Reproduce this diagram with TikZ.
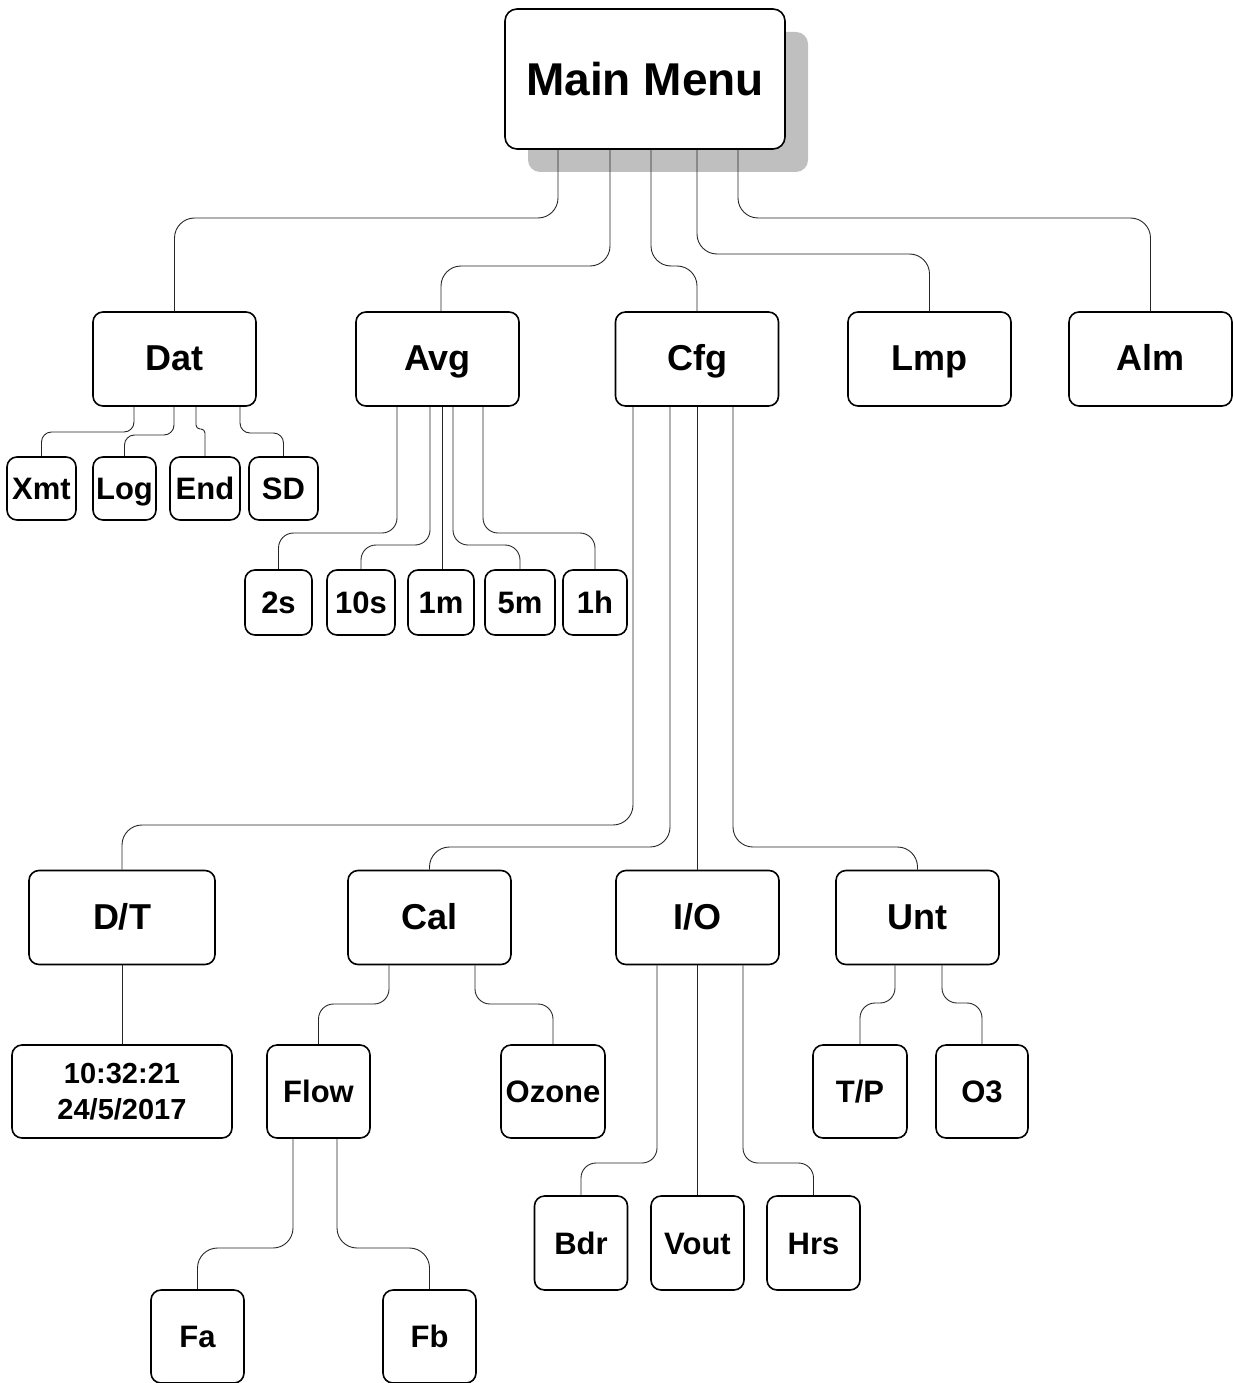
\documentclass[tikz,border=0pt]{standalone}
\usepackage{fontspec}
\setmainfont{Liberation Sans}
\usetikzlibrary{shadows}

\begin{document}
\begin{tikzpicture}[x=1pt,y=-1pt,
    menubox/.style={draw,line width=1.6pt,rounded corners=10pt,align=center,
                    inner sep=0pt,fill=white,font=\bfseries},
    topbox/.style={menubox,rounded corners=12pt,minimum width=280pt,minimum height=140pt,
                   font=\bfseries\fontsize{46}{54}\selectfont,
                   drop shadow={shadow xshift=23pt,shadow yshift=-23pt,fill=black!25,opacity=1}},
    midbox/.style={menubox,minimum width=163pt,minimum height=94pt,
                   text height=26pt,text depth=3pt,
                   font=\bfseries\fontsize{36}{42}\selectfont},
    leafbox/.style={menubox,minimum height=93pt,
                    text height=22pt,text depth=0pt,
                    font=\bfseries\fontsize{31}{36}\selectfont},
    wire/.style={draw=black!85,line width=0.9pt,rounded corners=15pt}]
  \useasboundingbox (0,0) rectangle (1233,1383);

  % main menu and first level
  \node[topbox] (main) at (645,79) {Main Menu};
  \foreach \nm/\tx/\x in {dat/Dat/174.5,avg/Avg/437.5,cfg/Cfg/697,lmp/Lmp/929.5,alm/Alm/1150.5}
    \node[midbox] (\nm) at (\x,359) {\tx};

  % second level under Dat and Avg
  \foreach \nm/\tx/\x/\w in {xmt/Xmt/41.5/69,log/Log/124.5/63,end/End/205/70,sd/SD/283.5/69}
    \node[leafbox,minimum width=\w,minimum height=63pt] (\nm) at (\x,488.5) {\tx};
  \foreach \nm/\tx/\x/\w in {stwo/2s/278.5/67,sten/10s/361/68,mone/1m/441/66,mfive/5m/520/70,hone/1h/595/64}
    \node[leafbox,minimum width=\w,minimum height=65pt] (\nm) at (\x,602.5) {\tx};

  % second level under Cfg
  \node[midbox,minimum width=186pt] (dt) at (122,917.5) {D/T};
  \foreach \nm/\tx/\x in {cal/Cal/429.5,io/{I/O}/697.5,unt/Unt/917.5}
    \node[midbox] (\nm) at (\x,917.5) {\tx};

  % third level
  \node[menubox,minimum width=220pt,minimum height=93pt,
        font=\bfseries\fontsize{29}{36}\selectfont] (clock) at (122,1091.5) {10:32:21\\24/5/2017};
  \foreach \nm/\tx/\x/\w in {flow/Flow/318.5/103,ozone/Ozone/553/104,tp/{T/P}/860/94,othree/O3/982/92}
    \node[leafbox,minimum width=\w] (\nm) at (\x,1091.5) {\tx};
  \foreach \nm/\tx/\x in {bdr/Bdr/581,vout/Vout/697.5,hrs/Hrs/813.5}
    \node[leafbox,minimum width=93pt,minimum height=94pt] (\nm) at (\x,1243) {\tx};
  \foreach \nm/\tx/\x in {fa/Fa/197.5,fb/Fb/429.5}
    \node[leafbox,minimum width=93pt] (\nm) at (\x,1336.5) {\tx};

  % wires from the main menu
  \begin{scope}[wire/.append style={rounded corners=20pt}]
    \draw[wire] (main.south -| 558,0) |- (dat.north |- 0,218) -- (dat.north);
    \draw[wire] (main.south -| 610,0) |- ([xshift=3.5pt]avg.north |- 0,266) -- ([xshift=3.5pt]avg.north);
    \draw[wire] (main.south -| 651,0) |- (cfg.north |- 0,266) -- (cfg.north);
    \draw[wire] (main.south -| 697,0) |- (lmp.north |- 0,254) -- (lmp.north);
    \draw[wire] (main.south -| 738,0) |- (alm.north |- 0,218) -- (alm.north);
  \end{scope}

  % wires under Dat
  \draw[wire,rounded corners=10pt] (dat.south -| 134,0) |- (xmt.north |- 0,432) -- (xmt.north);
  \draw[wire,rounded corners=10pt] (dat.south -| 174,0) |- (log.north |- 0,435) -- (log.north);
  \draw[wire,rounded corners=4pt] (dat.south -| 196,0) |- (end.north |- 0,429) -- (end.north);
  \draw[wire,rounded corners=10pt] (dat.south -| 240,0) |- (sd.north |- 0,433) -- (sd.north);

  % wires under Avg
  \draw[wire] (avg.south -| 397,0) |- (stwo.north |- 0,533) -- (stwo.north);
  \draw[wire] (avg.south -| 430,0) |- (sten.north |- 0,545) -- (sten.north);
  \draw[wire] (avg.south -| 442,0) -- (mone.north -| 442,0);
  \draw[wire] (avg.south -| 453,0) |- (mfive.north |- 0,545) -- (mfive.north);
  \draw[wire] (avg.south -| 483,0) |- (hone.north |- 0,533) -- (hone.north);

  % wires under Cfg
  \draw[wire,rounded corners=20pt] (cfg.south -| 633,0) |- (dt.north |- 0,825) -- (dt.north);
  \draw[wire,rounded corners=20pt] (cfg.south -| 670,0) |- (cal.north |- 0,847) -- (cal.north);
  \draw[wire] (cfg.south -| 697,0) -- (io.north -| 697,0);
  \draw[wire,rounded corners=20pt] (cfg.south -| 733,0) |- (unt.north |- 0,847) -- (unt.north);

  % wires of the lower levels
  \draw[wire] (dt.south) -- (clock.north);
  \draw[wire] (cal.south -| 389,0) |- (flow.north |- 0,1004) -- (flow.north);
  \draw[wire] (cal.south -| 475,0) |- (ozone.north |- 0,1004) -- (ozone.north);
  \draw[wire] (unt.south -| 895,0) |- (tp.north |- 0,1003) -- (tp.north);
  \draw[wire] (unt.south -| 942,0) |- (othree.north |- 0,1003) -- (othree.north);
  \draw[wire] (io.south -| 657,0) |- (bdr.north |- 0,1163) -- (bdr.north);
  \draw[wire] (io.south -| 697,0) -- (vout.north -| 697,0);
  \draw[wire] (io.south -| 743,0) |- (hrs.north |- 0,1163) -- (hrs.north);
  \draw[wire,rounded corners=20pt] (flow.south -| 293,0) |- (fa.north |- 0,1248) -- (fa.north);
  \draw[wire,rounded corners=20pt] (flow.south -| 337,0) |- (fb.north |- 0,1248) -- (fb.north);
\end{tikzpicture}
\end{document}
